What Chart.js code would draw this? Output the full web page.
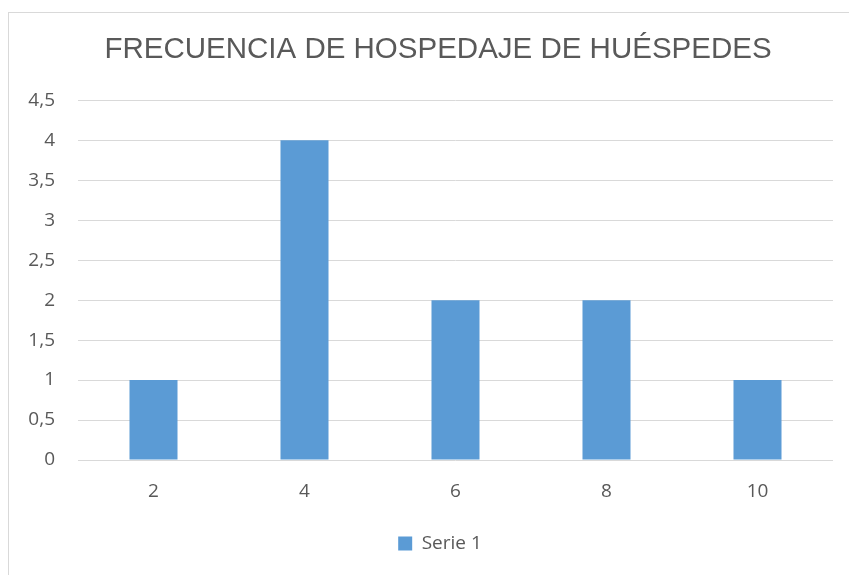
<!DOCTYPE html>
<html>
<head>
<meta charset="utf-8">
<script src="https://cdn.jsdelivr.net/npm/chart.js@4/dist/chart.umd.min.js"></script>
<style>
  html, body { margin: 0; padding: 0; background: #fff; }
  #wrap { position: relative; width: 849px; height: 575px; }
  #frame { position: absolute; left: 8px; top: 12px; width: 850px; height: 580px; border: 1px solid #d9d9d9; box-sizing: border-box; }
  canvas { position: absolute; left: 0; top: 0; }
</style>
</head>
<body>
<div id="wrap">
  <div id="frame"></div>
  <canvas id="chart" width="849" height="575"></canvas>
</div>
<script>
const categories = ["2", "4", "6", "8", "10"];
const serie1 = [1, 4, 2, 2, 1];
const titleText = "FRECUENCIA DE HOSPEDAJE DE HUÉSPEDES";

const textColor = "#595959";
const gridColor = "#d9d9d9";
const barColor = "#5b9bd5";
const tickFont = { family: "'Open Sans', sans-serif", size: 19 };

// title and legend in the original sit a little right of the canvas centre
const shiftBlocks = {
  id: "shiftBlocks",
  afterLayout(chart) {
    if (chart.titleBlock) chart.titleBlock.left += 43;
    if (chart.legend) chart.legend.left += 47;
  },
};

new Chart(document.getElementById("chart"), {
  type: "bar",
  data: {
    labels: categories,
    datasets: [
      {
        label: "Serie 1",
        data: serie1,
        backgroundColor: barColor,
        categoryPercentage: 1,
        barPercentage: 0.318,
      },
    ],
  },
  options: {
    responsive: false,
    animation: false,
    layout: { padding: { left: 0, right: 16, top: 20, bottom: 12 } },
    plugins: {
      title: {
        display: true,
        text: titleText,
        color: textColor,
        font: { family: "'Liberation Sans', Arial", size: 29.5, weight: "normal" },
        padding: { top: 12, bottom: 33 },
      },
      legend: {
        position: "bottom",
        labels: {
          color: textColor,
          font: tickFont,
          boxWidth: 14,
          boxHeight: 14,
          padding: 10,
        },
      },
      tooltip: { enabled: false },
    },
    scales: {
      x: {
        grid: { display: false, drawTicks: false },
        border: { display: false },
        ticks: {
          color: textColor,
          font: tickFont,
          padding: 20,
        },
        afterFit: (scale) => {
          scale.height = 64;
        },
      },
      y: {
        min: 0,
        max: 4.5,
        grid: { color: gridColor, lineWidth: 1, drawTicks: false },
        border: { display: false },
        ticks: {
          stepSize: 0.5,
          color: textColor,
          font: tickFont,
          padding: 23,
          callback: (v) => String(v).replace(".", ","),
        },
        afterFit: (scale) => {
          scale.width = 78;
        },
      },
    },
  },
  plugins: [shiftBlocks],
});
</script>
</body>
</html>
